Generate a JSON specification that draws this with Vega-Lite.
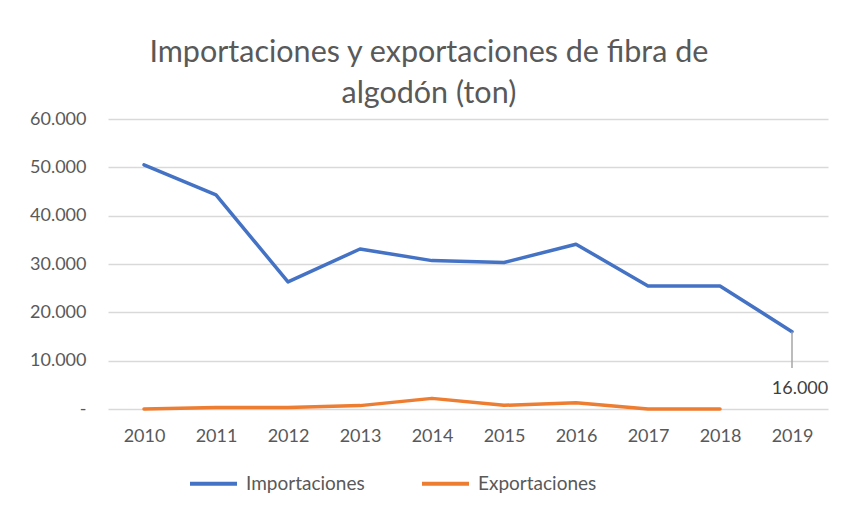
{
  "$schema": "https://vega.github.io/schema/vega-lite/v6.json",
  "autosize": {"type": "none"},
  "width": 720,
  "height": 290,
  "padding": {"left": 108, "top": 119, "right": 19, "bottom": 115},
  "background": "white",
  "config": {
    "font": "Lato",
    "view": {"stroke": null}
  },
  "title": {
    "text": ["Importaciones y exportaciones de fibra de", "algodón (ton)"],
    "fontSize": 30.5,
    "fontWeight": "normal",
    "color": "#595959",
    "anchor": "middle",
    "frame": "bounds",
    "lineHeight": 41,
    "offset": 1
  },
  "data": {
    "values": [
      {"year": "2010", "serie": "Importaciones", "value": 50500},
      {"year": "2011", "serie": "Importaciones", "value": 44300},
      {"year": "2012", "serie": "Importaciones", "value": 26300},
      {"year": "2013", "serie": "Importaciones", "value": 33100},
      {"year": "2014", "serie": "Importaciones", "value": 30700},
      {"year": "2015", "serie": "Importaciones", "value": 30300},
      {"year": "2016", "serie": "Importaciones", "value": 34100},
      {"year": "2017", "serie": "Importaciones", "value": 25450},
      {"year": "2018", "serie": "Importaciones", "value": 25450},
      {"year": "2019", "serie": "Importaciones", "value": 16000},
      {"year": "2010", "serie": "Exportaciones", "value": 0},
      {"year": "2011", "serie": "Exportaciones", "value": 300},
      {"year": "2012", "serie": "Exportaciones", "value": 300},
      {"year": "2013", "serie": "Exportaciones", "value": 700},
      {"year": "2014", "serie": "Exportaciones", "value": 2200},
      {"year": "2015", "serie": "Exportaciones", "value": 770},
      {"year": "2016", "serie": "Exportaciones", "value": 1300},
      {"year": "2017", "serie": "Exportaciones", "value": 0},
      {"year": "2018", "serie": "Exportaciones", "value": 0}
    ]
  },
  "layer": [
    {
      "mark": {"type": "line", "strokeWidth": 3.5, "strokeCap": "round", "strokeJoin": "round"},
      "encoding": {
        "x": {
          "field": "year", "type": "ordinal",
          "scale": {"type": "point", "padding": 0.5},
          "axis": {
            "title": null, "domain": false, "ticks": false, "labelAngle": 0,
            "labelFontSize": 18, "labelColor": "#595959", "labelPadding": 18, "grid": false
          }
        },
        "y": {
          "field": "value", "type": "quantitative",
          "scale": {"domain": [0, 60000], "nice": false},
          "axis": {
            "title": null, "domain": false, "ticks": false,
            "values": [0, 10000, 20000, 30000, 40000, 50000, 60000],
            "labelExpr": "datum.value == 0 ? '-' : replace(format(datum.value, ',.0f'), ',', '.')",
            "labelFontSize": 18, "labelColor": "#595959", "labelPadding": 22,
            "gridColor": "#d9d9d9", "gridWidth": 1.5
          }
        },
        "color": {
          "field": "serie", "type": "nominal",
          "scale": {"domain": ["Importaciones", "Exportaciones"], "range": ["#4472C4", "#ED7D31"]},
          "legend": {
            "title": null, "orient": "none", "legendX": 80, "legendY": 339, "direction": "horizontal",
            "symbolType": "stroke", "symbolStrokeWidth": 4, "symbolSize": 2209,
            "labelFontSize": 19, "labelColor": "#595959", "columnPadding": 49,
            "labelOffset": 7
          }
        }
      }
    },
    {
      "transform": [{"filter": "datum.serie == 'Importaciones' && datum.year == '2019'"}],
      "mark": {"type": "rule", "color": "#a6a6a6", "strokeWidth": 1.5},
      "encoding": {
        "x": {"field": "year", "type": "ordinal"},
        "y": {"field": "value", "type": "quantitative"},
        "y2": {"datum": 8500}
      }
    },
    {
      "transform": [{"filter": "datum.serie == 'Importaciones' && datum.year == '2019'"}],
      "mark": {"type": "text", "fontSize": 18, "color": "#404040", "dy": 57, "dx": 8},
      "encoding": {
        "x": {"field": "year", "type": "ordinal"},
        "y": {"field": "value", "type": "quantitative"},
        "text": {"value": "16.000"}
      }
    }
  ]
}
